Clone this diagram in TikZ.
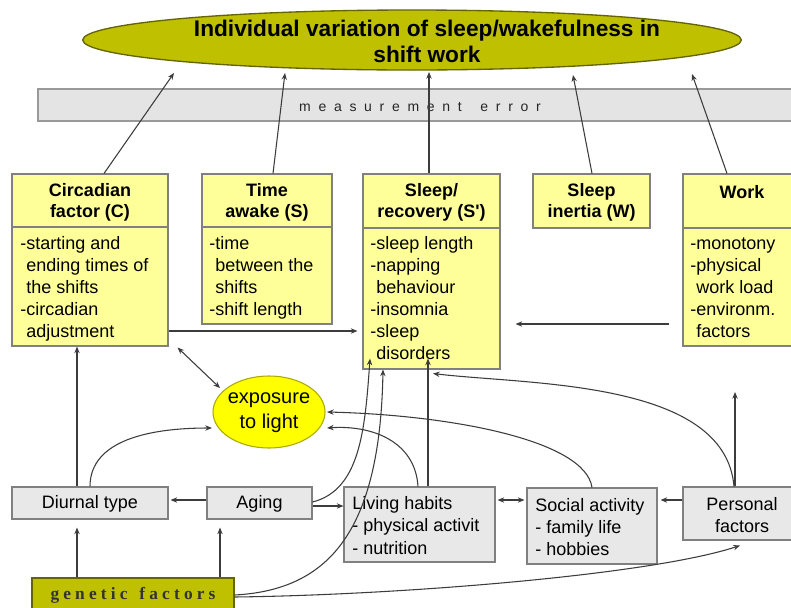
\documentclass[tikz,border=0pt]{standalone}
\usepackage{fontspec}
\setmainfont{Liberation Sans}
\newfontfamily\spacedsans[LetterSpace=55]{Liberation Sans}
\newfontfamily\genfont[LetterSpace=24]{Liberation Serif}
\usetikzlibrary{shapes.geometric,fit,calc,arrows.meta}
\definecolor{yel}{RGB}{255,255,153}
\definecolor{grayf}{RGB}{232,232,232}
\definecolor{bandf}{RGB}{228,228,228}
\definecolor{bordc}{RGB}{128,128,128}
\definecolor{linec}{RGB}{60,60,60}
\definecolor{olivef}{RGB}{190,192,0}
\definecolor{olived}{RGB}{100,100,0}
\definecolor{expof}{RGB}{255,255,0}
\definecolor{expod}{RGB}{170,170,0}
\newcommand\fpx[2]{\fontsize{#1}{#2}\selectfont}
\tikzset{
 arr/.style={draw=linec, line width=0.8pt, -{Stealth[length=5pt,width=4pt]}},
 darr/.style={draw=linec, line width=0.8pt, {Stealth[length=5pt,width=4pt]}-{Stealth[length=5pt,width=4pt]}},
 ybx/.style={draw=bordc, fill=yel, line width=0.8pt, inner sep=0pt},
 gbx/.style={draw=bordc, fill=grayf, line width=0.8pt, inner sep=0pt, font=\fpx{13.5}{16.5}, align=center},
 divl/.style={draw=bordc, line width=0.8pt},
 hdr/.style={font=\bfseries\fpx{13.5}{15.75}, align=center, inner sep=0pt},
 body/.style={font=\fpx{13.5}{16.5}, align=left, anchor=north west, inner sep=0pt},
}
\begin{document}
\begin{tikzpicture}[x=0.75pt,y=-0.75pt]
\useasboundingbox (0,0) rectangle (791,607);
\fill[white] (0,0) rectangle (791,607);
\begin{scope}
\clip (0,0) rectangle (791,607);
% title
\node[ellipse, draw=olived, fill=olivef, line width=1pt, minimum width=494pt, minimum height=45pt, inner sep=0pt] (title) at (412,40) {};
\node[font=\bfseries\fpx{17}{19.5}, align=center, inner sep=0pt] (titletxt) at (427,41) {Individual variation of sleep/wakefulness in\\shift work};
% measurement error band
\node[fit={(38,89)(800,121)}, inner sep=0pt, draw=bordc!80, fill=bandf, line width=0.8pt] (band) {};
\node[font=\spacedsans\fpx{10.5}{12}, text=black!85, inner sep=0pt] (bandtxt) at (420,107) {measurement\hspace{14pt}error};
% upper boxes
\node[ybx, fit={(12,174)(168,346)}] (circ) {};
\draw[divl] (12,227) -- (168,227);
\node[hdr] (circh) at (90,202.5) {Circadian\\factor (C)};
\node[body] (circb) at (20,236) {-starting and\\\hphantom{-}ending times of\\\hphantom{-}the shifts\\-circadian\\\hphantom{-}adjustment};
\node[ybx, fit={(202,174)(332,324)}] (time) {};
\draw[divl] (202,227) -- (332,227);
\node[hdr] (timeh) at (267,202.5) {Time\\awake (S)};
\node[body] (timeb) at (209,236) {-time\\\hphantom{-}between the\\\hphantom{-}shifts\\-shift length};
\node[ybx, fit={(363,174)(500,369)}] (sleep) {};
\draw[divl] (363,228) -- (500,228);
\node[hdr] (sleeph) at (431.5,202.5) {Sleep/\\recovery (S\textquotesingle)};
\node[body] (sleepb) at (370,236) {-sleep length\\-napping\\\hphantom{-}behaviour\\-insomnia\\-sleep\\\hphantom{-}disorders};
\node[ybx, fit={(533,174)(650,228)}] (inert) {};
\node[hdr] (inerth) at (591.5,202.5) {Sleep\\inertia (W)};
\node[ybx, fit={(683,174)(801,346)}] (work) {};
\draw[divl] (683,228) -- (801,228);
\node[hdr] (workh) at (742,192) {Work};
\node[body] (workb) at (690,238) {-monotony\\-physical\\\hphantom{-}work load\\-environm.\\\hphantom{-}factors};
% exposure
\node[ellipse, draw=expod, fill=expof, line width=0.8pt, minimum width=84pt, minimum height=54pt, inner sep=0pt] (expo) at (269,412) {};
\node[font=\fpx{15}{18.75}, align=center, inner sep=0pt] (expotxt) at (269,413) {exposure\\to light};
% lower boxes
\node[gbx, fit={(12,487)(168,519)}] (diur) {};
\node[font=\fpx{13.5}{16.5}, inner sep=0pt] (diurt) at (90,504) {Diurnal type};
\node[gbx, fit={(207,487)(312,519)}] (aging) {};
\node[font=\fpx{13.5}{16.5}, inner sep=0pt] (agingt) at (259.5,504) {Aging};
\node[gbx, fit={(344,487)(495,562)}] (living) {};
\node[body, font=\fpx{13.5}{16.9}] (livingt) at (352,496) {Living habits\\- physical activit\\- nutrition};
\node[gbx, fit={(527,488)(657,564)}] (social) {};
\node[body] (socialt) at (535,498) {Social activity\\- family life\\- hobbies};
\node[gbx, fit={(683,487)(801,540)}] (pers) {};
\node[font=\fpx{13.5}{16.5}, align=center, inner sep=0pt] (perst) at (742,515) {Personal\\factors};
\node[fit={(32,578)(234,620)}, inner sep=0pt, draw=olived, fill=olivef, line width=0.8pt] (gen) {};
\node[font=\genfont\bfseries\fpx{13}{14}, text=black!80, inner sep=0pt] (gent) at (133,595) {genetic\hspace{9pt}factors};
% free arrow ends
\coordinate (t1) at (174,73);
\coordinate (t2) at (285,73);
\coordinate (t3) at (429,72);
\coordinate (t4) at (573,75);
\coordinate (t5) at (692,74);
\coordinate (pup) at (735,392);
% arrows to title
\draw[arr] (circ.north -| 104,0) -- (t1);
\draw[arr] (time.north -| 273,0) -- (t2);
\draw[arr] (sleep.north -| 429,0) -- (t3);
\draw[arr] (inert.north -| 592,0) -- (t4);
\draw[arr] (work.north -| 727,0) -- (t5);
% middle arrows
\draw[arr] (circ.east |- 0,331) -- ($(sleep.west |- 0,331)+(-5,0)$);
\draw[arr] ($(work.west |- 0,324)+(-13,0)$) -- ($(sleep.east |- 0,324)+(15,0)$);
\draw[darr] ($(circ.south east)+(9,1)$) -- ($(expo.center)+(-49,-24)$);
% lower arrows
\draw[arr] (diur.north -| 77,0) -- (circ.south -| 77,0);
\draw[arr] (diur.north -| 90,0) .. controls (90,440) and (150,428) .. ($(expo.center)+(-57,16)$);
\draw[arr] (aging.west |- 0,500) -- ($(diur.east |- 0,500)+(2,0)$);
\draw[arr] (aging.east |- 0,506) -- (living.west |- 0,506);
\draw[arr] (aging.east |- 0,502) .. controls (360,490) and (365,430) .. ($(sleep.south -| 370,0)+(0,-11)$);
\draw[arr] (gen.east |- 0,595) .. controls (330,590) and (380,530) .. (sleep.south -| 383,0);
\draw[arr] (gen.east |- 0,597) .. controls (400,595) and (650,575) .. ($(pers.south -| 740,0)+(0,5)$);
\draw[arr] (gen.north -| 77,0) -- ($(diur.south -| 77,0)+(0,8)$);
\draw[arr] (gen.north -| 220,0) -- ($(aging.south -| 220,0)+(0,8)$);
\draw[arr] (living.north -| 428,0) -- ($(sleep.south -| 428,0)+(0,-11)$);
\draw[arr] (living.north -| 418,0) .. controls (415,440) and (370,425) .. ($(expo.center)+(58,16)$);
\draw[arr] (social.north -| 592,0) .. controls (585,440) and (450,415) .. ($(expo.center)+(58,0)$);
\draw[arr] (pers.north -| 734,0) .. controls (725,380) and (530,385) .. ($(sleep.south -| 433,0)+(0,4)$);
\draw[arr] (pers.north -| 735,0) -- (pup);
\draw[darr] ($(living.east |- 0,500)+(2,0)$) -- ($(social.west |- 0,500)+(-2,0)$);
\draw[arr] (pers.west |- 0,500) -- ($(social.east |- 0,500)+(3,0)$);
\end{scope}
\end{tikzpicture}
\end{document}
